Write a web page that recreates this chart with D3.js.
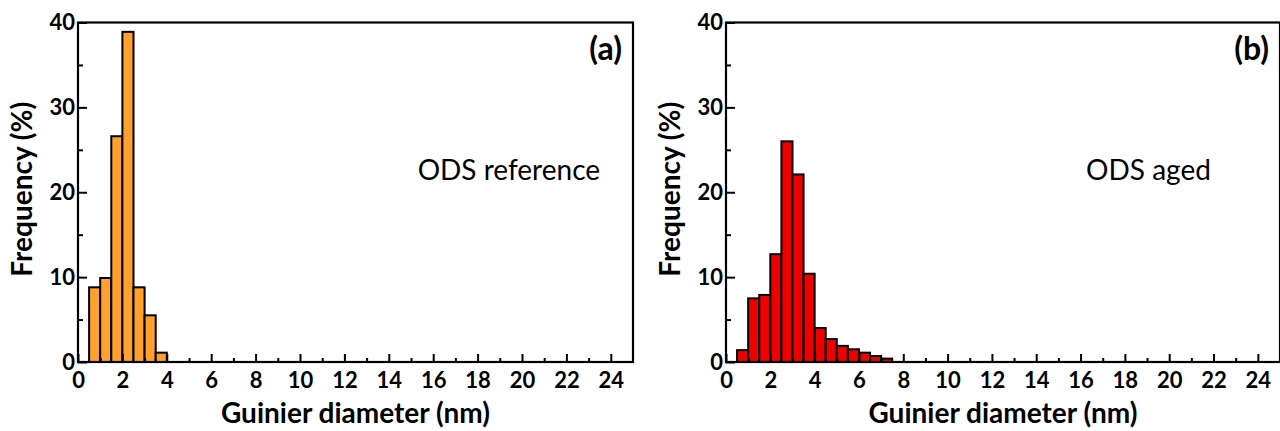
<!DOCTYPE html>
<html>
<head>
<meta charset="utf-8">
<script src="https://cdn.jsdelivr.net/npm/d3@7"></script>
<style>
  html, body { margin: 0; padding: 0; background: #fff; }
  svg { display: block; font-family: Lato, "Open Sans", sans-serif; }
</style>
</head>
<body>
<svg id="chart" width="1280" height="431"></svg>
<script>
// Bin lower edges (nm), bin width 0.5 nm
const binStartsA = [0.5, 1.0, 1.5, 2.0, 2.5, 3.0, 3.5];
const freqA = [8.8, 9.9, 26.6, 38.9, 8.8, 5.5, 1.1];

const binStartsB = [0.5, 1.0, 1.5, 2.0, 2.5, 3.0, 3.5, 4.0, 4.5, 5.0, 5.5, 6.0, 6.5, 7.0];
const freqB = [1.4, 7.5, 7.9, 12.7, 26.0, 22.1, 10.4, 4.0, 2.7, 1.9, 1.5, 1.1, 0.7, 0.4];

const binWidth = 0.5;
const xTicks = [0, 2, 4, 6, 8, 10, 12, 14, 16, 18, 20, 22, 24];
const yTicks = [0, 10, 20, 30, 40];

const panels = [
  { label: "(a)", name: "ODS reference", nameAt: 15.3, starts: binStartsA, values: freqA, color: "#FFA12C", left: 78, right: 633 },
  { label: "(b)", name: "ODS aged", nameAt: 16.25, starts: binStartsB, values: freqB, color: "#EE0000", left: 726, right: 1280 }
];

const svg = d3.select("#chart");
const plotTop = 22.5, plotBottom = 362;

panels.forEach(p => {
  const x = d3.scaleLinear().domain([0, 25]).range([p.left, p.right]);
  const y = d3.scaleLinear().domain([0, 40]).range([plotBottom, plotTop]);
  const g = svg.append("g");

  // bars
  g.selectAll("rect.bar")
    .data(p.starts.map((s, i) => ({ s, v: p.values[i] })))
    .join("rect")
    .attr("class", "bar")
    .attr("x", d => x(d.s))
    .attr("width", d => x(d.s + binWidth) - x(d.s))
    .attr("y", d => y(d.v))
    .attr("height", d => y(0) - y(d.v))
    .attr("fill", p.color)
    .attr("stroke", "#000")
    .attr("stroke-width", 2);

  // bottom axis with inward ticks
  const xMinor = d3.range(1, 25, 2);
  g.append("g").attr("transform", `translate(0,${plotBottom})`)
    .call(d3.axisTop(x).tickValues(xMinor).tickSize(4).tickFormat(""))
    .call(a => a.select(".domain").remove())
    .call(a => a.selectAll("line").attr("stroke-width", 2));
  g.append("g").attr("transform", `translate(0,${plotBottom})`)
    .call(d3.axisTop(x).tickValues(xTicks).tickSize(8).tickFormat(""))
    .call(a => a.select(".domain").remove())
    .call(a => a.selectAll("line").attr("stroke-width", 2));
  g.append("g").attr("transform", `translate(0,${plotBottom})`)
    .call(d3.axisBottom(x).tickValues(xTicks).tickSize(0).tickPadding(10).tickFormat(d3.format("d")))
    .call(a => a.select(".domain").remove())
    .call(a => a.selectAll("text").attr("font-size", 22).attr("font-weight", "bold").attr("fill", "#000").attr("font-family", "Lato"));

  // left axis with inward ticks
  const yMinor = [5, 15, 25, 35];
  g.append("g").attr("transform", `translate(${p.left},0)`)
    .call(d3.axisRight(y).tickValues(yMinor).tickSize(5).tickFormat(""))
    .call(a => a.select(".domain").remove())
    .call(a => a.selectAll("line").attr("stroke-width", 2));
  g.append("g").attr("transform", `translate(${p.left},0)`)
    .call(d3.axisRight(y).tickValues(yTicks).tickSize(9).tickFormat(""))
    .call(a => a.select(".domain").remove())
    .call(a => a.selectAll("line").attr("stroke-width", 2));
  g.append("g").attr("transform", `translate(${p.left},0)`)
    .call(d3.axisLeft(y).tickValues(yTicks).tickSize(0).tickPadding(3).tickFormat(d3.format("d")))
    .call(a => a.select(".domain").remove())
    .call(a => a.selectAll("text").attr("font-size", 22).attr("font-weight", "bold").attr("fill", "#000").attr("font-family", "Lato"));

  // frame
  g.append("rect")
    .attr("x", p.left).attr("y", plotTop)
    .attr("width", p.right - p.left).attr("height", plotBottom - plotTop)
    .attr("fill", "none").attr("stroke", "#000").attr("stroke-width", 2.2);

  // axis titles
  g.append("text")
    .attr("x", (p.left + p.right) / 2)
    .attr("y", 423)
    .attr("text-anchor", "middle")
    .attr("font-size", 28).attr("font-weight", "bold")
    .text("Guinier diameter (nm)");
  g.append("text")
    .attr("transform", `translate(${p.left - 46},${(plotTop + plotBottom) / 2 - 3}) rotate(-90)`)
    .attr("text-anchor", "middle")
    .attr("font-size", 28).attr("font-weight", "bold")
    .text("Frequency (%)");

  // panel label and annotation
  g.append("text")
    .attr("x", p.right - 11).attr("y", 60)
    .attr("text-anchor", "end")
    .attr("font-size", 32).attr("font-weight", "bold")
    .text(p.label);
  g.append("text")
    .attr("x", x(p.nameAt)).attr("y", 180)
    .attr("font-size", 28)
    .text(p.name);
});
</script>
</body>
</html>
